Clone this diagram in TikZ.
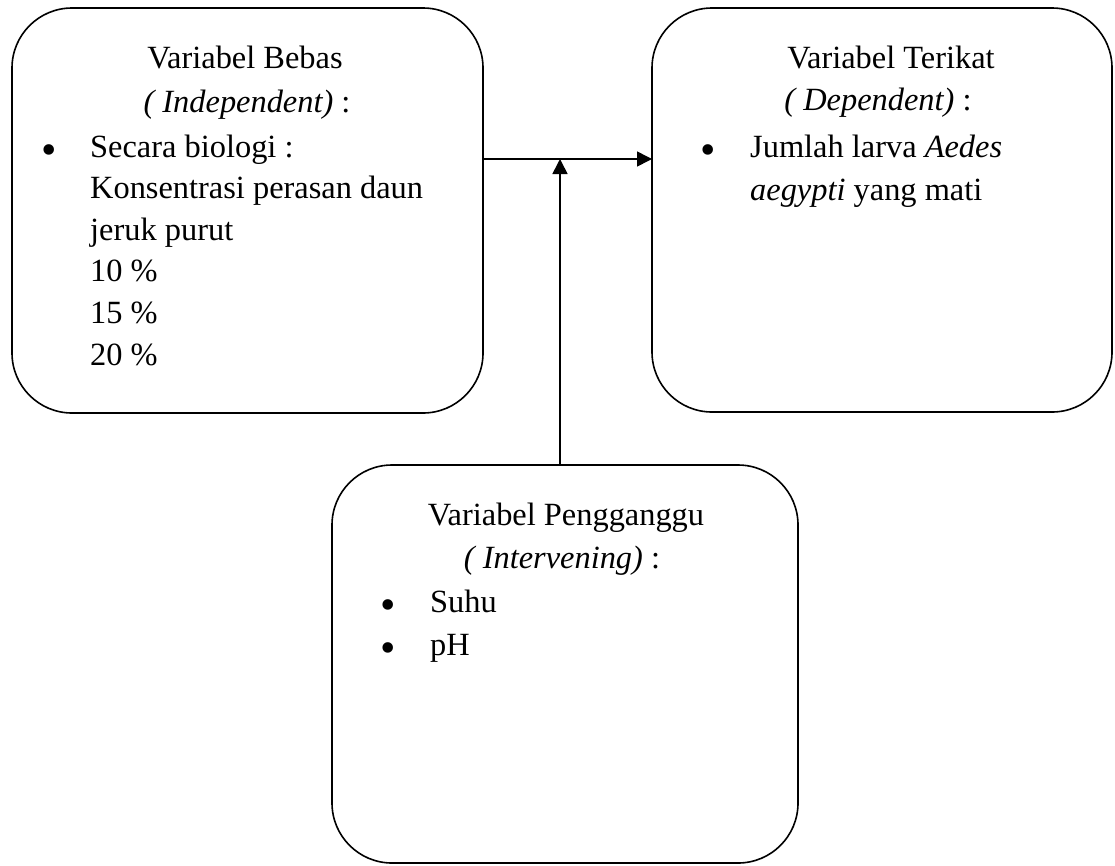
\documentclass[tikz,border=0pt]{standalone}
\usepackage{fontspec}
\setmainfont{Liberation Serif}
\usetikzlibrary{arrows.meta}

\begin{document}
\begin{tikzpicture}[x=1pt,y=-1pt,
  varbox/.style={draw, line width=1.6pt, rounded corners=60pt, inner sep=0pt, outer sep=0pt},
  txt/.style={inner sep=0pt, font=\fontsize{32.4}{42}\selectfont},
  dot/.style={inner sep=0pt, anchor=base, font=\fontsize{44}{44}\selectfont},
  flow/.style={line width=1.6pt, -{Triangle[length=15pt,width=15pt]}}]
  \useasboundingbox (0,0) rectangle (1115,865);
  % Boxes
  \node[varbox, minimum width=471pt, minimum height=405pt] (bebas) at (247.5,210.5) {};
  \node[varbox, minimum width=460pt, minimum height=404pt] (terikat) at (882,210) {};
  \node[varbox, minimum width=466pt, minimum height=398pt] (pengganggu) at (565,664) {};
  % Junction of the arrows
  \coordinate (junc) at (560,159);
  % Independent variable
  \node[txt, anchor=base] (bebasT) at (245,68) {Variabel Bebas};
  \node[txt, anchor=base] (bebasS) at (247,112) {\textit{( Independent)} :};
  \node[dot] (bebasD) at (49,164) {\textbullet};
  \foreach \lbl [count=\i] in {Secara biologi :, Konsentrasi perasan daun, jeruk purut, 10 \%, 15 \%, 20 \%}
    \node[txt, anchor=base west] (bebas\i) at (90,{157+41.6*(\i-1)}) {\lbl};
  % Dependent variable
  \node[txt, anchor=base] (terikatT) at (891,68) {Variabel Terikat};
  \node[txt, anchor=base] (terikatS) at (878,110) {\textit{( Dependent)} :};
  \node[dot] (terikatD) at (708,164) {\textbullet};
  \node[txt, anchor=base west] (terikat1) at (750,157) {Jumlah larva \textit{Aedes}};
  \node[txt, anchor=base west] (terikat2) at (750,200) {\textit{aegypti} yang mati};
  % Intervening variable
  \node[txt, anchor=base] (pengT) at (566,525) {Variabel Pengganggu};
  \node[txt, anchor=base] (pengS) at (562,568) {\textit{( Intervening)} :};
  \node[dot] (pengD1) at (388,619) {\textbullet};
  \node[dot] (pengD2) at (388,662) {\textbullet};
  \node[txt, anchor=base west] (peng1) at (430,612) {Suhu};
  \node[txt, anchor=base west] (peng2) at (430,655) {pH};
  % Arrows
  \draw[flow] (junc -| bebas.east) -- (junc -| terikat.west);
  \draw[flow] (pengganggu.north -| junc) -- (junc);
\end{tikzpicture}
\end{document}
